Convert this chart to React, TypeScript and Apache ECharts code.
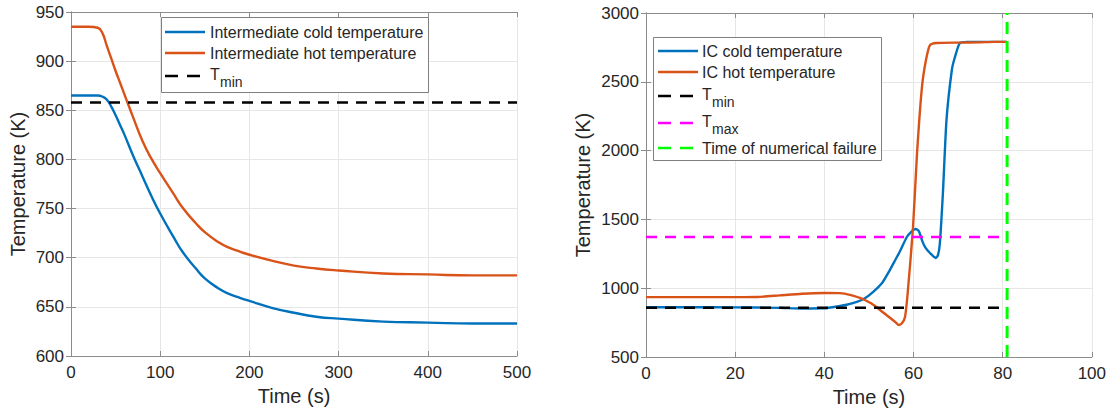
import React, { useEffect, useRef } from "react";
import * as echarts from "echarts";

// ---------- Left panel data ----------
const leftTime = [0, 10, 20, 30, 35, 40, 45, 50, 55, 60, 70, 80, 90, 100, 115, 125, 140, 150, 165, 175, 190, 200, 225, 250, 275, 300, 350, 400, 450, 500];
const leftCold = [865, 865, 865, 865, 864, 861, 854, 845, 835, 825, 803, 783, 763, 745, 721, 706, 689, 679, 669, 664, 659, 656, 649, 644, 640, 638, 635, 634, 633, 633];
const leftHot = [935, 935, 935, 934, 929, 916, 903, 890, 878, 866, 842, 819, 801, 786, 765, 751, 735, 726, 716, 711, 706, 703, 697, 692, 689, 687, 684, 683, 682, 682];
const leftTmin = 858;
const leftXMax = 500;

// ---------- Right panel data ----------
const rightColdTime = [0, 10, 20, 30, 35, 40, 43.5, 45, 47.3, 49, 50.9, 53, 54.7, 56, 57, 58.5, 59.5, 60.5, 61.2, 62, 62.6, 63.7, 65, 65.5, 65.9, 66.6, 67.4, 68.6, 69.3, 70.4, 72, 81];
const rightCold = [862, 862, 861, 857, 853, 854, 871, 880, 900, 925, 972, 1040, 1132, 1210, 1270, 1372, 1410, 1430, 1415, 1340, 1299, 1256, 1220, 1240, 1321, 1692, 2222, 2586, 2680, 2782, 2790, 2790];
const rightHotTime = [0, 10, 20, 25, 30, 35, 40, 43.5, 46, 48, 49.1, 50.5, 52.5, 54, 55, 56, 56.7, 57.4, 58.1, 58.7, 59.9, 60.8, 61.9, 62.8, 63.7, 65.2, 70, 75, 78, 81];
const rightHot = [935, 935, 935, 936, 948, 960, 965, 964, 950, 929, 914, 890, 842, 803, 778, 752, 733, 745, 791, 965, 1445, 1983, 2462, 2658, 2767, 2782, 2785, 2787, 2790, 2790];
const rightTmin = 858;
const rightTmax = 1373;
const failureTime = 81;
const rightYMin = 500;
const rightYMax = 3000;

// ---------- Legend labels ----------
const leftLegendLabels = ["Intermediate cold temperature", "Intermediate hot temperature"];
const rightLegendLabels = ["IC cold temperature", "IC hot temperature", "Time of numerical failure"];

const zip = (xs: number[], ys: number[]) => xs.map((x, i) => [x, ys[i]]);

const FONT = "Liberation Sans";
const BLUE = "#0072BD";
const ORANGE = "#D95319";
const MAGENTA = "#ff00ff";
const GREEN = "#00ff00";
const AXIS = "#8c8c8c";
const TEXT = "#262626";
const DASH = [11, 8];
const LW = 2.4;

function xAxes(gridIndex: number, max: number, interval: number) {
  return [
    {
      type: "value",
      gridIndex,
      min: 0,
      max,
      interval,
      position: "bottom",
      name: "Time (s)",
      nameLocation: "middle",
      nameGap: 28,
      nameTextStyle: { fontFamily: FONT, fontSize: 20, color: TEXT },
      axisLine: { show: true, lineStyle: { color: AXIS, width: 1 } },
      axisTick: { show: true, inside: true, length: 5, lineStyle: { color: AXIS } },
      axisLabel: { fontFamily: FONT, fontSize: 17, color: TEXT, margin: 8, formatter: (v: number) => String(v) },
      splitLine: { show: true, lineStyle: { color: "#e6e6e6", width: 1 } },
    },
    {
      type: "value",
      gridIndex,
      min: 0,
      max,
      interval,
      position: "top",
      axisLine: { show: true, lineStyle: { color: AXIS, width: 1 } },
      axisTick: { show: true, inside: true, length: 5, lineStyle: { color: AXIS } },
      axisLabel: { show: false },
      splitLine: { show: false },
    },
  ];
}

function yAxes(gridIndex: number, min: number, max: number, interval: number, nameGap: number) {
  return [
    {
      type: "value",
      gridIndex,
      min,
      max,
      interval,
      position: "left",
      name: "Temperature (K)",
      nameLocation: "middle",
      nameGap,
      nameTextStyle: { fontFamily: FONT, fontSize: 20, color: TEXT },
      axisLine: { show: true, lineStyle: { color: AXIS, width: 1 } },
      axisTick: { show: true, inside: true, length: 5, lineStyle: { color: AXIS } },
      axisLabel: { fontFamily: FONT, fontSize: 17, color: TEXT, margin: 7, formatter: (v: number) => String(v) },
      splitLine: { show: true, lineStyle: { color: "#e6e6e6", width: 1 } },
    },
    {
      type: "value",
      gridIndex,
      min,
      max,
      interval,
      position: "right",
      axisLine: { show: true, lineStyle: { color: AXIS, width: 1 } },
      axisTick: { show: true, inside: true, length: 5, lineStyle: { color: AXIS } },
      axisLabel: { show: false },
      splitLine: { show: false },
    },
  ];
}

// legend item builders (graphic)
function legendLine(x: number, y: number, color: string, dashed: boolean) {
  return {
    type: "line",
    shape: { x1: x, y1: y, x2: x + 40, y2: y },
    style: { stroke: color, lineWidth: LW, lineDash: dashed ? [13, 9] : null },
    z: 101,
  };
}
function legendText(x: number, y: number, text: string, size = 16) {
  return {
    type: "text",
    x,
    y,
    style: { text, fontFamily: FONT, fontSize: size, fill: TEXT, verticalAlign: "middle", align: "left" },
    z: 101,
  };
}
function legendSub(x: number, y: number, main: string, sub: string) {
  return [legendText(x, y - 2, main, 16), legendText(x + 10, y + 6, sub, 14)];
}
function legendBox(x: number, y: number, w: number, h: number) {
  return {
    type: "rect",
    shape: { x, y, width: w, height: h },
    style: { fill: "#ffffff", stroke: "#7f7f7f", lineWidth: 1 },
    z: 100,
  };
}

export default function App() {
  const ref = useRef<HTMLDivElement>(null);
  useEffect(() => {
    if (!ref.current) return;
    const chart = echarts.init(ref.current, undefined, { renderer: "svg" });

    const graphic: any[] = [
      // left legend
      legendBox(161.5, 17.5, 267, 75),
      legendLine(165, 32, BLUE, false),
      legendText(210, 32, leftLegendLabels[0]),
      legendLine(165, 53, ORANGE, false),
      legendText(210, 53, leftLegendLabels[1]),
      legendLine(165, 76, "#000", true),
      ...legendSub(210, 76, "T", "min"),
      // right legend
      legendBox(653.5, 37.5, 228, 123),
      legendLine(658, 51, BLUE, false),
      legendText(702, 51, rightLegendLabels[0]),
      legendLine(658, 72, ORANGE, false),
      legendText(702, 72, rightLegendLabels[1]),
      legendLine(658, 96, "#000", true),
      ...legendSub(702, 96, "T", "min"),
      legendLine(658, 123, MAGENTA, true),
      ...legendSub(702, 123, "T", "max"),
      legendLine(658, 148, GREEN, true),
      legendText(702, 148, rightLegendLabels[2]),
    ];

    const option: any = {
      animation: false,
      backgroundColor: "#ffffff",
      grid: [
        { left: 71, top: 12, width: 446, height: 344, containLabel: false },
        { left: 646, top: 13, width: 446, height: 344, containLabel: false },
      ],
      xAxis: [...xAxes(0, leftXMax, 100), ...xAxes(1, 100, 20)],
      yAxis: [...yAxes(0, 600, 950, 50, 43), ...yAxes(1, rightYMin, rightYMax, 500, 53)],
      graphic,
      series: [
        {
          name: "T_min",
          type: "line",
          xAxisIndex: 0,
          yAxisIndex: 0,
          data: [[0, leftTmin], [leftXMax, leftTmin]],
          symbol: "none",
          lineStyle: { color: "#000", width: 2.5, type: DASH },
          z: 3,
        },
        {
          name: leftLegendLabels[0],
          type: "line",
          xAxisIndex: 0,
          yAxisIndex: 0,
          data: zip(leftTime, leftCold),
          symbol: "none",
          smooth: 0.5,
          lineStyle: { color: BLUE, width: LW },
          z: 2,
        },
        {
          name: leftLegendLabels[1],
          type: "line",
          xAxisIndex: 0,
          yAxisIndex: 0,
          data: zip(leftTime, leftHot),
          symbol: "none",
          smooth: 0.5,
          lineStyle: { color: ORANGE, width: LW },
          z: 2,
        },
        {
          name: rightLegendLabels[0],
          type: "line",
          xAxisIndex: 2,
          yAxisIndex: 2,
          data: zip(rightColdTime, rightCold),
          symbol: "none",
          smooth: 0.2,
          lineStyle: { color: BLUE, width: LW },
          z: 2,
        },
        {
          name: rightLegendLabels[1],
          type: "line",
          xAxisIndex: 2,
          yAxisIndex: 2,
          data: zip(rightHotTime, rightHot),
          symbol: "none",
          smooth: 0.2,
          lineStyle: { color: ORANGE, width: LW },
          z: 2,
        },
        {
          name: "T_min ",
          type: "line",
          xAxisIndex: 2,
          yAxisIndex: 2,
          data: [[0, rightTmin], [failureTime, rightTmin]],
          symbol: "none",
          lineStyle: { color: "#000", width: 2.5, type: DASH },
          z: 3,
        },
        {
          name: "T_max",
          type: "line",
          xAxisIndex: 2,
          yAxisIndex: 2,
          data: [[0, rightTmax], [failureTime, rightTmax]],
          symbol: "none",
          lineStyle: { color: MAGENTA, width: 2.5, type: DASH },
          z: 3,
        },
        {
          name: rightLegendLabels[2],
          type: "line",
          xAxisIndex: 2,
          yAxisIndex: 2,
          data: [[failureTime, rightYMin], [failureTime, rightYMax]],
          symbol: "none",
          lineStyle: { color: GREEN, width: 3, type: [12, 7] },
          z: 3,
        },
      ],
    };
    chart.setOption(option);
    return () => chart.dispose();
  }, []);
  return (
    <div
      ref={ref}
      style={{ position: "absolute", left: 0, top: 0, width: 1109, height: 417 }}
    />
  );
}
